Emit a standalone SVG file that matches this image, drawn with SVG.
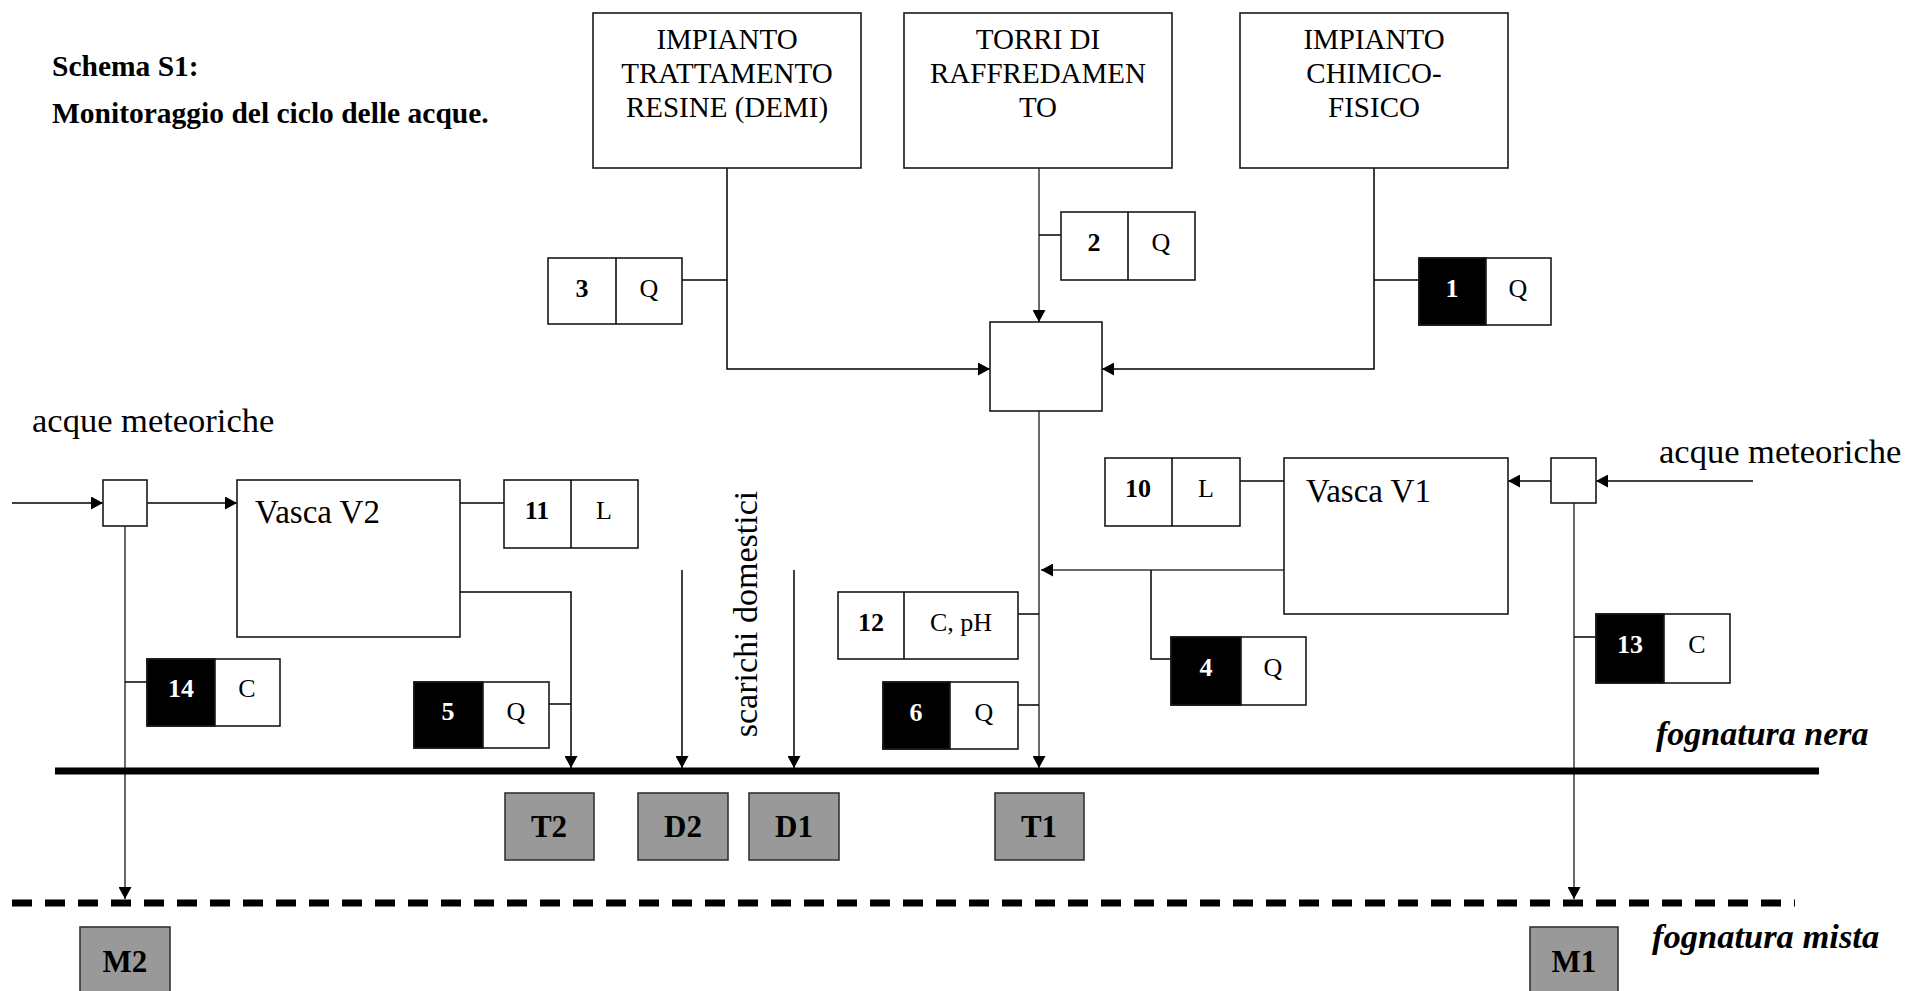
<svg xmlns="http://www.w3.org/2000/svg" width="1906" height="991" viewBox="0 0 1906 991">
<style>
.t{font-family:"Liberation Serif","Times New Roman",serif;fill:#000}
.box{fill:#fff;stroke:#1a1a1a;stroke-width:1.6}
.blk{fill:#000;stroke:#1a1a1a;stroke-width:1.6}
.gbox{fill:#999;stroke:#333;stroke-width:1.6}
.ln{fill:none;stroke:#000;stroke-width:1.5}
.lg{fill:none;stroke:#6a6a6a;stroke-width:2}
.bt{font-size:29px;text-anchor:middle}
.num{font-size:26px;font-weight:bold;text-anchor:middle}
.lab{font-size:26px;text-anchor:middle}
.w{fill:#fff}
.gt{font-size:31px;font-weight:bold;text-anchor:middle}
.big{font-size:33px}
.it{font-size:34px;font-weight:bold;font-style:italic}
.am{font-size:34.5px}
</style>
<defs>
<marker id="ah" markerWidth="13" markerHeight="13" refX="12" refY="6.5" orient="auto" markerUnits="userSpaceOnUse">
<path d="M0,0 L12,6.5 L0,13 z" fill="#000"/>
</marker>
</defs>
<rect width="1906" height="991" fill="#fff"/>

<g id="title">
<text class="t" x="52" y="76" style="font-size:29.5px;font-weight:bold">Schema S1:</text>
<text class="t" x="52" y="123" style="font-size:29.5px;font-weight:bold">Monitoraggio del ciclo delle acque.</text>
</g>

<g id="connectors">
<path class="ln" d="M727,168 V369 H990" marker-end="url(#ah)"/>
<path class="lg" d="M1039,168 V322" marker-end="url(#ah)"/>
<path class="ln" d="M1374,168 V369 H1102" marker-end="url(#ah)"/>
<path class="lg" d="M1039,411 V768" marker-end="url(#ah)"/>
<path class="ln" d="M682,280 H727"/>
<path class="ln" d="M1039,235 H1061"/>
<path class="ln" d="M1374,280 H1419"/>
<path class="ln" d="M12,503 H103" marker-end="url(#ah)"/>
<path class="ln" d="M147,503 H237" marker-end="url(#ah)"/>
<path class="ln" d="M460,503 H504"/>
<path class="ln" d="M460,592 H571 V768" marker-end="url(#ah)"/>
<path class="ln" d="M549,704 H571"/>
<path class="lg" d="M125,526 V899" marker-end="url(#ah)"/>
<path class="ln" d="M125,682 H147"/>
<path class="ln" d="M682,570 V768" marker-end="url(#ah)"/>
<path class="ln" d="M794,570 V768" marker-end="url(#ah)"/>
<path class="ln" d="M1753,481 H1596" marker-end="url(#ah)"/>
<path class="ln" d="M1551,481 H1508" marker-end="url(#ah)"/>
<path class="ln" d="M1240,481 H1284"/>
<path class="lg" d="M1285,570 H1041" marker-end="url(#ah)"/>
<path class="ln" d="M1151,570 V659 H1171"/>
<path class="ln" d="M1018,614 H1039"/>
<path class="ln" d="M1018,705 H1039"/>
<path class="lg" d="M1574,503 V899" marker-end="url(#ah)"/>
<path class="ln" d="M1574,637 H1596"/>
</g>

<g id="fognatura-nera">
<line x1="55" y1="771" x2="1819" y2="771" stroke="#000" stroke-width="7"/>
<text class="t it" x="1656" y="745">fognatura nera</text>
</g>
<g id="fognatura-mista">
<line x1="12" y1="903" x2="1795" y2="903" stroke="#000" stroke-width="7" stroke-dasharray="20 13"/>
<text class="t it" x="1652" y="948" style="font-size:34.5px">fognatura mista</text>
</g>

<g id="impianto-resine">
<rect class="box" x="593" y="13" width="268" height="155"/>
<text class="t bt" x="727" y="49">IMPIANTO</text>
<text class="t bt" x="727" y="83">TRATTAMENTO</text>
<text class="t bt" x="727" y="117">RESINE (DEMI)</text>
</g>
<g id="torri">
<rect class="box" x="904" y="13" width="268" height="155"/>
<text class="t bt" x="1038" y="49">TORRI DI</text>
<text class="t bt" x="1038" y="83">RAFFREDAMEN</text>
<text class="t bt" x="1038" y="117">TO</text>
</g>
<g id="impianto-chimico">
<rect class="box" x="1240" y="13" width="268" height="155"/>
<text class="t bt" x="1374" y="49">IMPIANTO</text>
<text class="t bt" x="1374" y="83">CHIMICO-</text>
<text class="t bt" x="1374" y="117">FISICO</text>
</g>
<g id="collettore">
<rect class="box" x="990" y="322" width="112" height="89"/>
</g>

<g id="s3">
<rect class="box" x="548" y="258" width="134" height="66"/>
<line class="ln" x1="616" y1="258" x2="616" y2="324"/>
<text class="t num" x="582" y="297">3</text>
<text class="t lab" x="649" y="297">Q</text>
</g>
<g id="s2">
<rect class="box" x="1061" y="212" width="134" height="68"/>
<line class="ln" x1="1128" y1="212" x2="1128" y2="280"/>
<text class="t num" x="1094" y="251">2</text>
<text class="t lab" x="1161" y="251">Q</text>
</g>
<g id="s1">
<rect class="box" x="1419" y="258" width="132" height="67"/>
<rect class="blk" x="1419" y="258" width="67" height="67"/>
<text class="t num w" x="1452" y="297">1</text>
<text class="t lab" x="1518" y="297">Q</text>
</g>

<g id="acque-sx">
<text class="t am" x="32" y="432">acque meteoriche</text>
<rect class="box" x="103" y="480" width="44" height="46"/>
</g>
<g id="vasca-v2">
<rect class="box" x="237" y="480" width="223" height="157"/>
<text class="t big" x="255" y="523">Vasca V2</text>
</g>
<g id="s11">
<rect class="box" x="504" y="480" width="134" height="68"/>
<line class="ln" x1="571" y1="480" x2="571" y2="548"/>
<text class="t num" x="537" y="519">11</text>
<text class="t lab" x="604" y="519">L</text>
</g>
<g id="s14">
<rect class="box" x="147" y="659" width="133" height="67"/>
<rect class="blk" x="147" y="659" width="68" height="67"/>
<text class="t num w" x="181" y="697">14</text>
<text class="t lab" x="247" y="697">C</text>
</g>
<g id="s5">
<rect class="box" x="414" y="682" width="135" height="66"/>
<rect class="blk" x="414" y="682" width="69" height="66"/>
<text class="t num w" x="448" y="720">5</text>
<text class="t lab" x="516" y="720">Q</text>
</g>

<g id="scarichi">
<text class="t" transform="translate(757,614) rotate(-90)" text-anchor="middle" style="font-size:34px">scarichi domestici</text>
</g>

<g id="s12">
<rect class="box" x="838" y="592" width="180" height="67"/>
<line class="ln" x1="904" y1="592" x2="904" y2="659"/>
<text class="t num" x="871" y="631">12</text>
<text class="t lab" x="961" y="631">C, pH</text>
</g>
<g id="s6">
<rect class="box" x="883" y="682" width="135" height="67"/>
<rect class="blk" x="883" y="682" width="67" height="67"/>
<text class="t num w" x="916" y="721">6</text>
<text class="t lab" x="984" y="721">Q</text>
</g>

<g id="s10">
<rect class="box" x="1105" y="458" width="135" height="68"/>
<line class="ln" x1="1172" y1="458" x2="1172" y2="526"/>
<text class="t num" x="1138" y="497">10</text>
<text class="t lab" x="1206" y="497">L</text>
</g>
<g id="vasca-v1">
<rect class="box" x="1284" y="458" width="224" height="156"/>
<text class="t big" x="1306" y="502">Vasca V1</text>
</g>
<g id="acque-dx">
<rect class="box" x="1551" y="458" width="45" height="45"/>
<text class="t am" x="1659" y="463">acque meteoriche</text>
</g>
<g id="s4">
<rect class="box" x="1171" y="637" width="135" height="68"/>
<rect class="blk" x="1171" y="637" width="70" height="68"/>
<text class="t num w" x="1206" y="676">4</text>
<text class="t lab" x="1273" y="676">Q</text>
</g>
<g id="s13">
<rect class="box" x="1596" y="614" width="134" height="69"/>
<rect class="blk" x="1596" y="614" width="68" height="69"/>
<text class="t num w" x="1630" y="653">13</text>
<text class="t lab" x="1697" y="653">C</text>
</g>

<g id="T2"><rect class="gbox" x="505" y="793" width="89" height="67"/><text class="t gt" x="549" y="837">T2</text></g>
<g id="D2"><rect class="gbox" x="638" y="793" width="90" height="67"/><text class="t gt" x="683" y="837">D2</text></g>
<g id="D1"><rect class="gbox" x="749" y="793" width="90" height="67"/><text class="t gt" x="794" y="837">D1</text></g>
<g id="T1"><rect class="gbox" x="995" y="793" width="89" height="67"/><text class="t gt" x="1039" y="837">T1</text></g>
<g id="M2"><rect class="gbox" x="80" y="927" width="90" height="70"/><text class="t gt" x="125" y="972">M2</text></g>
<g id="M1"><rect class="gbox" x="1530" y="927" width="88" height="70"/><text class="t gt" x="1574" y="972">M1</text></g>
</svg>
